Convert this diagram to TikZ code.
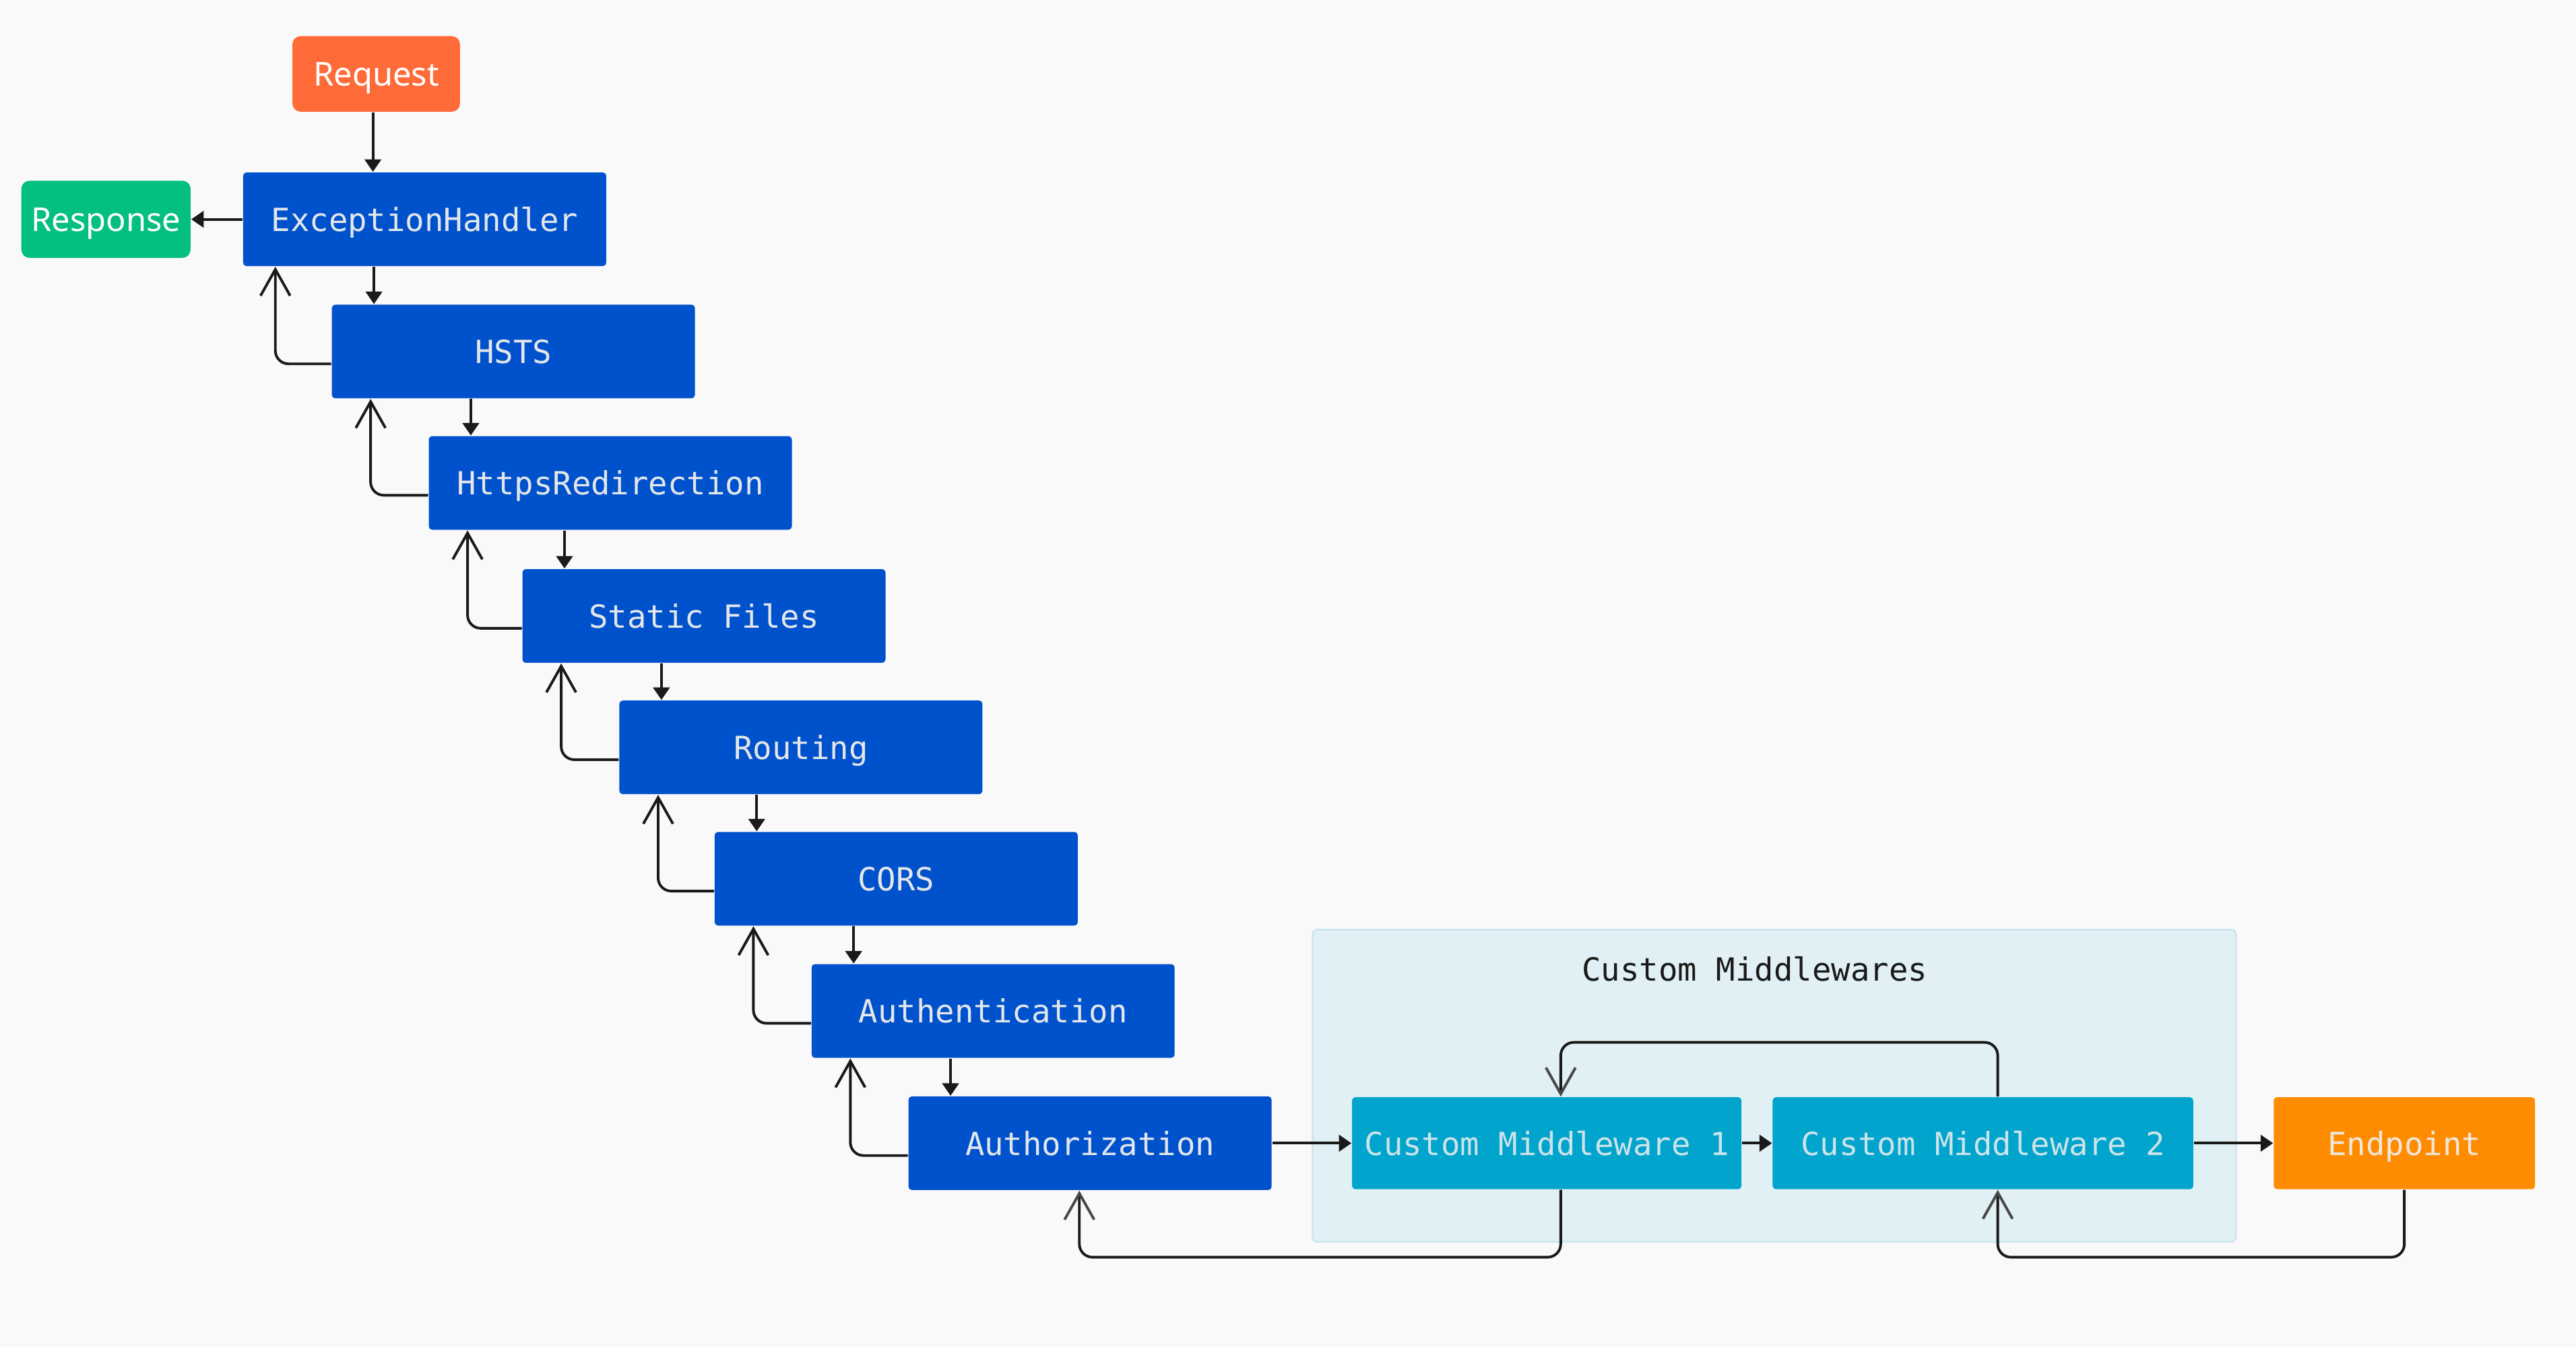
\documentclass[tikz,border=0pt]{standalone}
\usepackage{fontspec}
\setmainfont{Noto Sans}
\setsansfont{Noto Sans}
\setmonofont{DejaVu Sans Mono}
\usetikzlibrary{arrows.meta}
\definecolor{bg}{HTML}{F9F9F9}
\definecolor{reqc}{HTML}{FF6B38}
\definecolor{respc}{HTML}{03BF80}
\definecolor{bluec}{HTML}{0052CC}
\definecolor{bluetext}{HTML}{E3E6EA}
\definecolor{cmc}{HTML}{00A4CC}
\definecolor{cmtext}{HTML}{CBE3E9}
\definecolor{epc}{HTML}{FF8C00}
\definecolor{eptext}{HTML}{F0E6DA}
\definecolor{clfill}{HTML}{E1F0F4}
\definecolor{cldraw}{HTML}{CBE7EF}
\definecolor{linec}{HTML}{1A1A1A}
\definecolor{tipgray}{HTML}{484848}
\begin{document}
\begin{tikzpicture}[x=0.5pt,y=-0.5pt,
  monofont/.style={font=\fontsize{9.7}{12}\selectfont\ttfamily, text height=0.729em, text depth=0pt},
  mwbox/.style={monofont, fill=bluec, text=bluetext, rounded corners=1pt,
    minimum width=110.5pt, minimum height=28.5pt, inner sep=0pt},
  cmbox/.style={monofont, fill=cmc, text=cmtext, rounded corners=1pt,
    minimum height=28pt, inner sep=0pt},
  termbox/.style={font=\fontsize{10}{12}\selectfont\sffamily, text=white,
    text height=0.714em, text depth=0pt,
    rounded corners=2.5pt, minimum width=51pt, minimum height=23pt, inner sep=0pt},
  fwd/.style={draw=linec, line width=0.8pt, -{Triangle[length=3.8pt,width=5pt]}},
  back/.style={draw=linec, line width=0.8pt, rounded corners=4pt,
    -{Straight Barb[length=8pt,width=9pt]}},
  backg/.style={draw=linec, line width=0.8pt, rounded corners=4pt,
    -{Straight Barb[length=8pt,width=9pt,color=tipgray]}},
]
\fill[bg] (0,0) rectangle (1568,820);
\useasboundingbox (0,0) rectangle (1568,820);

% cluster
\node[fill=clfill, draw=cldraw, line width=0.6pt, rounded corners=1.5pt,
  minimum width=281pt, minimum height=95pt, inner sep=0pt] (cl) at (1080,661) {};
\node[monofont, text=linec] (cltitle) at (1068,590) {Custom Middlewares};

% terminal nodes
\node[termbox, fill=reqc] (req) at (229,45) {Request};
\node[termbox, fill=respc, minimum width=51.5pt, minimum height=23.5pt] (resp) at (64.5,133.5) {Response};

% middleware chain
\foreach \t/\cx/\cy [count=\i from 0] in {ExceptionHandler/258.5/133.5,HSTS/312.5/214,HttpsRedirection/371.5/294,Static Files/428.5/375,Routing/487.5/455,CORS/545.5/535,Authentication/604.5/615.5,Authorization/663.5/696}
  \node[mwbox] (m\i) at (\cx,\cy) {\t};

% custom middlewares and endpoint
\node[cmbox, minimum width=118.5pt] (c1) at (941.5,696) {Custom Middleware 1};
\node[cmbox, minimum width=128pt] (c2) at (1207,696) {Custom Middleware 2};
\node[monofont, fill=epc, text=eptext, rounded corners=1pt, minimum width=79.5pt,
  minimum height=28pt, inner sep=0pt] (ep) at (1463.5,696) {Endpoint};

% request / response
\coordinate (rq) at ([xshift=-1pt]req.south);
\draw[fwd] (rq) -- (rq |- m0.north);
\draw[fwd] (m0.west) -- (resp.east);

% forward chain arrows and return arrows
\foreach \i/\off in {1/10pt,2/12pt,3/12pt,4/12pt,5/12pt,6/12pt,7/12pt} {
  \pgfmathtruncatemacro\j{\i-1}
  \coordinate (d\i) at ([xshift=13pt]m\i.north west);
  \draw[fwd] (d\i |- m\j.south) -- (d\i);
  \coordinate (u\i) at ([xshift=\off]m\j.south west);
  \draw[back] ([yshift=-3.75pt]m\i.west) -| (u\i);
}

% custom section arrows
\draw[fwd] (m7.east) -- (c1.west);
\draw[fwd] (c1.east) -- (c2.west);
\draw[fwd] (c2.east) -- (ep.west);
\draw[backg] ([xshift=4.25pt]c1.south) -- ++(0,41) -| ([xshift=-3.25pt]m7.south);
\draw[backg] (ep.south) -- ++(0,41) -| ([xshift=4.5pt]c2.south);
\draw[backg] ([xshift=4.5pt]c2.north) -- ++(0,-33) -| ([xshift=4.25pt]c1.north);
\end{tikzpicture}
\end{document}
